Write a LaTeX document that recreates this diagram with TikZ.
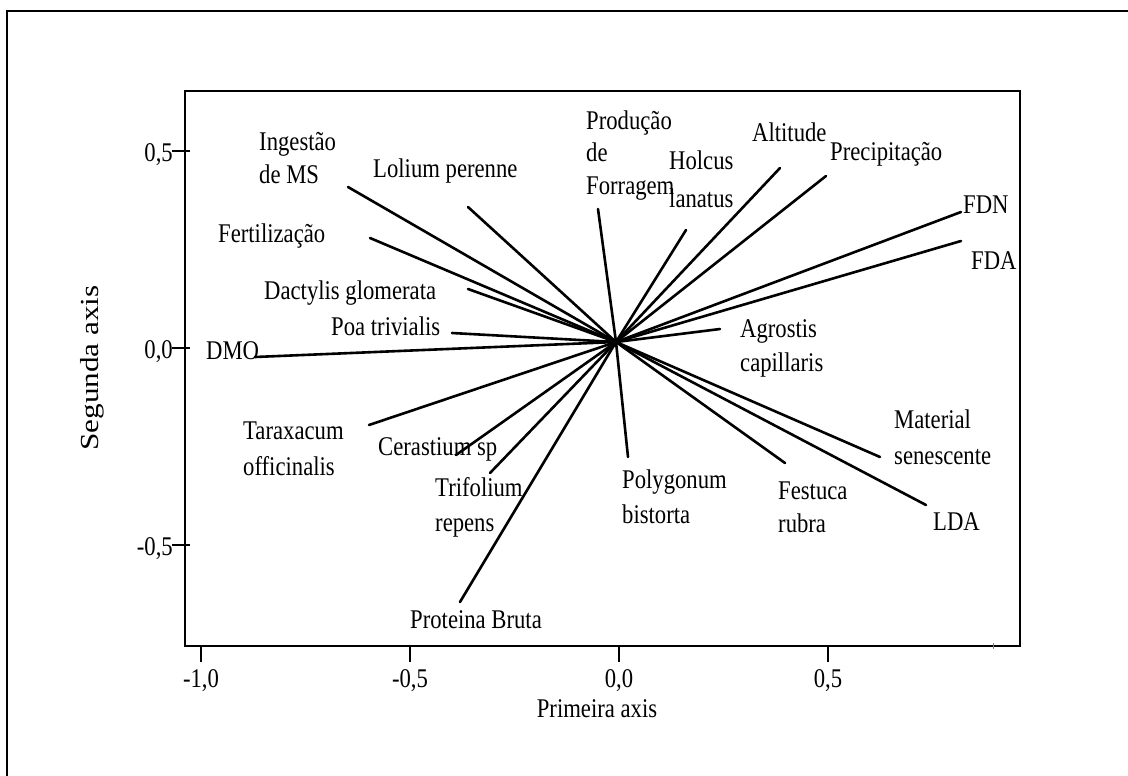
\documentclass[tikz,border=0pt]{standalone}
\usepackage{fontspec}
\setmainfont[FakeStretch=0.84]{Liberation Serif}
\newfontfamily\rotfont[FakeStretch=1.2]{Liberation Serif}
\newcommand{\ml}[1]{\begin{tabular}[t]{@{}l@{}}#1\end{tabular}}
\tikzset{
  lbl/.style={anchor=base west, inner sep=0pt},
  lsk/.style={font=\fontsize{27}{#1}\selectfont},
  vec/.style={line width=2.6pt},
  axisline/.style={line width=2.4pt},
  ticklbl/.style={inner sep=0pt},
  frameline/.style={line width=2pt}
}
\begin{document}
\begin{tikzpicture}[x=1pt,y=-1pt,font=\fontsize{27}{33}\selectfont]
\fill[white] (0,0) rectangle (1128,776);
\useasboundingbox (0,0) rectangle (1128,776);
% outer frame (cut by the image edges)
\begin{scope}
\clip (0,0) rectangle (1128,776);
\draw[frameline] (7,11) rectangle (1200,860);
\end{scope}
% plot box
\draw[axisline] (185,91) rectangle (1020,646);
% y ticks
\foreach \yy in {151,348,545} \draw[axisline] (172,\yy) -- (190,\yy);
% x ticks
\foreach \xx in {201,410,619,828} \draw[axisline] (\xx,646) -- (\xx,662);
\draw[line width=0.8pt, gray] (993,643) -- (993,649);
% tick labels
\node[ticklbl, anchor=base] (xm10) at (201,687) {-1,0};
\node[ticklbl, anchor=base] (xm05) at (410,687) {-0,5};
\node[ticklbl, anchor=base] (x00) at (619,687) {0,0};
\node[ticklbl, anchor=base] (x05) at (828,687) {0,5};
\node[ticklbl, anchor=base east] (y05) at (173,161) {0,5};
\node[ticklbl, anchor=base east] (y00) at (173,358) {0,0};
\node[ticklbl, anchor=base east] (ym05) at (173,555) {-0,5};
\node[ticklbl, anchor=base] (xtitle) at (597,717) {Primeira axis};
\node[ticklbl, rotate=90, font=\rotfont\fontsize{26}{30}\selectfont] (ytitle) at (92,368) {Segunda axis};
% origin and vector ends
\coordinate (O) at (616,342);
\coordinate (eIng) at (348,187);
\coordinate (eLol) at (468,207);
\coordinate (eFert) at (370,238);
\coordinate (eDact) at (468,289);
\coordinate (ePoa) at (452,333);
\coordinate (eDMO) at (255,357);
\coordinate (eTar) at (369,425);
\coordinate (eCer) at (456,455);
\coordinate (eTrif) at (490,473);
\coordinate (eProt) at (460,602);
\coordinate (ePoly) at (628,457);
\coordinate (eFest) at (785,463);
\coordinate (eMat) at (880,457);
\coordinate (eLDA) at (926,505);
\coordinate (eAgro) at (720,329);
\coordinate (eFDA) at (961,241);
\coordinate (eFDN) at (961,212);
\coordinate (ePrec) at (826,176);
\coordinate (eAlt) at (780,168);
\coordinate (eHol) at (686,230);
\coordinate (eProd) at (598,209);
\foreach \e in {eIng,eLol,eFert,eDact,ePoa,eDMO,eTar,eCer,eTrif,eProt,ePoly,eFest,eMat,eLDA,eAgro,eFDA,eFDN,ePrec,eAlt,eHol,eProd}
  \draw[vec, line cap=round] (O) -- (\e);
% labels
\node[lbl, lsk=33] (ingestao) at (259,150) {\ml{Ingestão\\de MS}};
\node[lbl] (lolium) at (373,177) {Lolium perenne};
\node[lbl] (fert) at (218,242) {Fertilização};
\node[lbl] (dact) at (264,299) {Dactylis glomerata};
\node[lbl] (poa) at (331,335) {Poa trivialis};
\node[lbl] (dmo) at (206,359) {DMO};
\node[lbl, lsk=32.5] (prod) at (586,129) {\ml{Produção\\de\\Forragem}};
\node[lbl, lsk=38] (holcus) at (669,169) {\ml{Holcus\\lanatus}};
\node[lbl] (alt) at (752,141) {Altitude};
\node[lbl] (prec) at (830,160) {Precipitação};
\node[lbl] (fdn) at (963,213) {FDN};
\node[lbl] (fda) at (971,269) {FDA};
\node[lbl, lsk=34] (agro) at (740,337) {\ml{Agrostis\\capillaris}};
\node[lbl, lsk=36] (mat) at (894,428) {\ml{Material\\senescente}};
\node[lbl, lsk=35] (poly) at (622,488) {\ml{Polygonum\\bistorta}};
\node[lbl, lsk=33] (fest) at (778,499) {\ml{Festuca\\rubra}};
\node[lbl] (lda) at (933,530) {LDA};
\node[lbl, lsk=36] (tarax) at (243,439) {\ml{Taraxacum\\officinalis}};
\node[lbl] (cera) at (378,455) {Cerastium sp};
\node[lbl, lsk=35] (trif) at (435,496) {\ml{Trifolium\\repens}};
\node[lbl] (prot) at (410,628) {Proteina Bruta};
\end{tikzpicture}
\end{document}
